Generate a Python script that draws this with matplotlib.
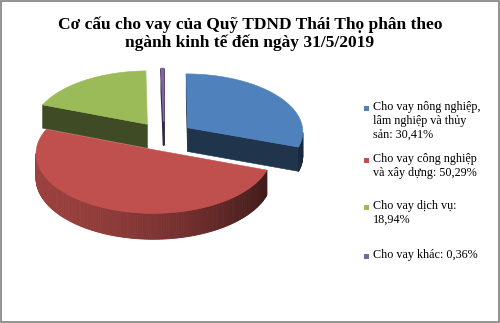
import numpy as np
import matplotlib.pyplot as plt
from matplotlib.patches import Polygon, Rectangle
from matplotlib.colors import to_rgb

# du lieu bieu do
tieu_de = 'Cơ cấu cho vay của Quỹ TDND Thái Thọ phân theo\nngành kinh tế đến ngày 31/5/2019'
nhan = ['Cho vay nông nghiệp,\nlâm nghiệp và thủy\nsản: 30,41%',
        'Cho vay công nghiệp\nvà xây dựng: 50,29%',
        'Cho vay dịch vụ:\n18,94%',
        'Cho vay khác: 0,36%']
ty_le = [30.41, 50.29, 18.94, 0.36]
mau = ['#4F81BD', '#C0504D', '#9BBB59', '#8064A2']

# hinh hoc banh 3D
cx, cy = 164, 136
A, B, H = 116, 58, 24
p = 0.06      # phoi canh
e = 0.25      # tach mieng

def chieu(u, v, z):
    s = 1 / (1 + p * v)
    return cx + u * A * s, cy - v * B * s + (1 - z) * H * s

def dam(c, f):
    return tuple(np.clip(np.array(to_rgb(c)) * f, 0, 1))

fig = plt.figure(figsize=(5, 3.23), dpi=100)
ax = fig.add_axes([0, 0, 1, 1])
ax.set_xlim(0, 500)
ax.set_ylim(323, 0)
ax.axis('off')

goc = np.cumsum([0] + ty_le) / sum(ty_le) * 360
V = np.array([0, -1 / p])

mieng = []
for i in range(len(ty_le)):
    t1, t2 = goc[i], goc[i + 1]
    tm = np.radians((t1 + t2) / 2)
    mieng.append((e * np.cos(tm), i, t1, t2, e * np.sin(tm)))
mieng.sort(reverse=True)   # mieng phia sau ve truoc

for dv, i, t1, t2, du in mieng:
    c = mau[i]
    lw = 1.1 if t2 - t1 < 3 else 0.4
    th = np.radians(np.linspace(t1, t2, max(int(t2 - t1) + 2, 3)))
    u = du + np.sin(th)
    v = dv + np.cos(th)

    # mat cat
    for t, dau in [(t1, -1), (t2, 1)]:
        tr = np.radians(t)
        n = dau * np.array([np.cos(tr), -np.sin(tr)])
        P = np.array([du + 0.5 * np.sin(tr), dv + 0.5 * np.cos(tr)])
        if np.dot(n, V - P) > 0:
            pts = [chieu(du, dv, 1), chieu(du + np.sin(tr), dv + np.cos(tr), 1),
                   chieu(du + np.sin(tr), dv + np.cos(tr), 0), chieu(du, dv, 0)]
            ax.add_patch(Polygon(pts, closed=True, fc=dam(c, 0.4), ec=dam(c, 0.4), lw=lw))

    # mat ben ngoai
    for k in range(len(th) - 1):
        tmid = (th[k] + th[k + 1]) / 2
        P = np.array([du + np.sin(tmid), dv + np.cos(tmid)])
        n = np.array([np.sin(tmid), np.cos(tmid)])
        if np.dot(n, V - P) > 0:
            sx = np.sin(tmid)
            f = 0.66 - 0.25 * sx - 0.1 * sx ** 2
            pts = [chieu(u[k], v[k], 1), chieu(u[k + 1], v[k + 1], 1),
                   chieu(u[k + 1], v[k + 1], 0), chieu(u[k], v[k], 0)]
            ax.add_patch(Polygon(pts, closed=True, fc=dam(c, f), ec=dam(c, f), lw=0.6))

    # mat tren
    pts = [chieu(du, dv, 1)] + [chieu(a, b, 1) for a, b in zip(u, v)]
    ax.add_patch(Polygon(pts, closed=True, fc=c, ec=c, lw=lw))

ax.text(250, 34, tieu_de, ha='center', va='center', fontsize=12.5, fontweight='bold',
        family='Liberation Serif', linespacing=1.15)

y_nhan = [108, 160, 207, 256]
for i in range(len(nhan)):
    ax.add_patch(Rectangle((364, y_nhan[i] - 2.5), 5, 5, fc=mau[i], ec='none'))
    ax.text(373, y_nhan[i] - 7, nhan[i], ha='left', va='top', fontsize=8.7,
            family='Liberation Serif', linespacing=1.2)

ax.add_patch(Rectangle((0.7, 0.7), 497.8, 320.8, fill=False, ec='#808080', lw=1.2))

plt.savefig('out.png', dpi=100)
